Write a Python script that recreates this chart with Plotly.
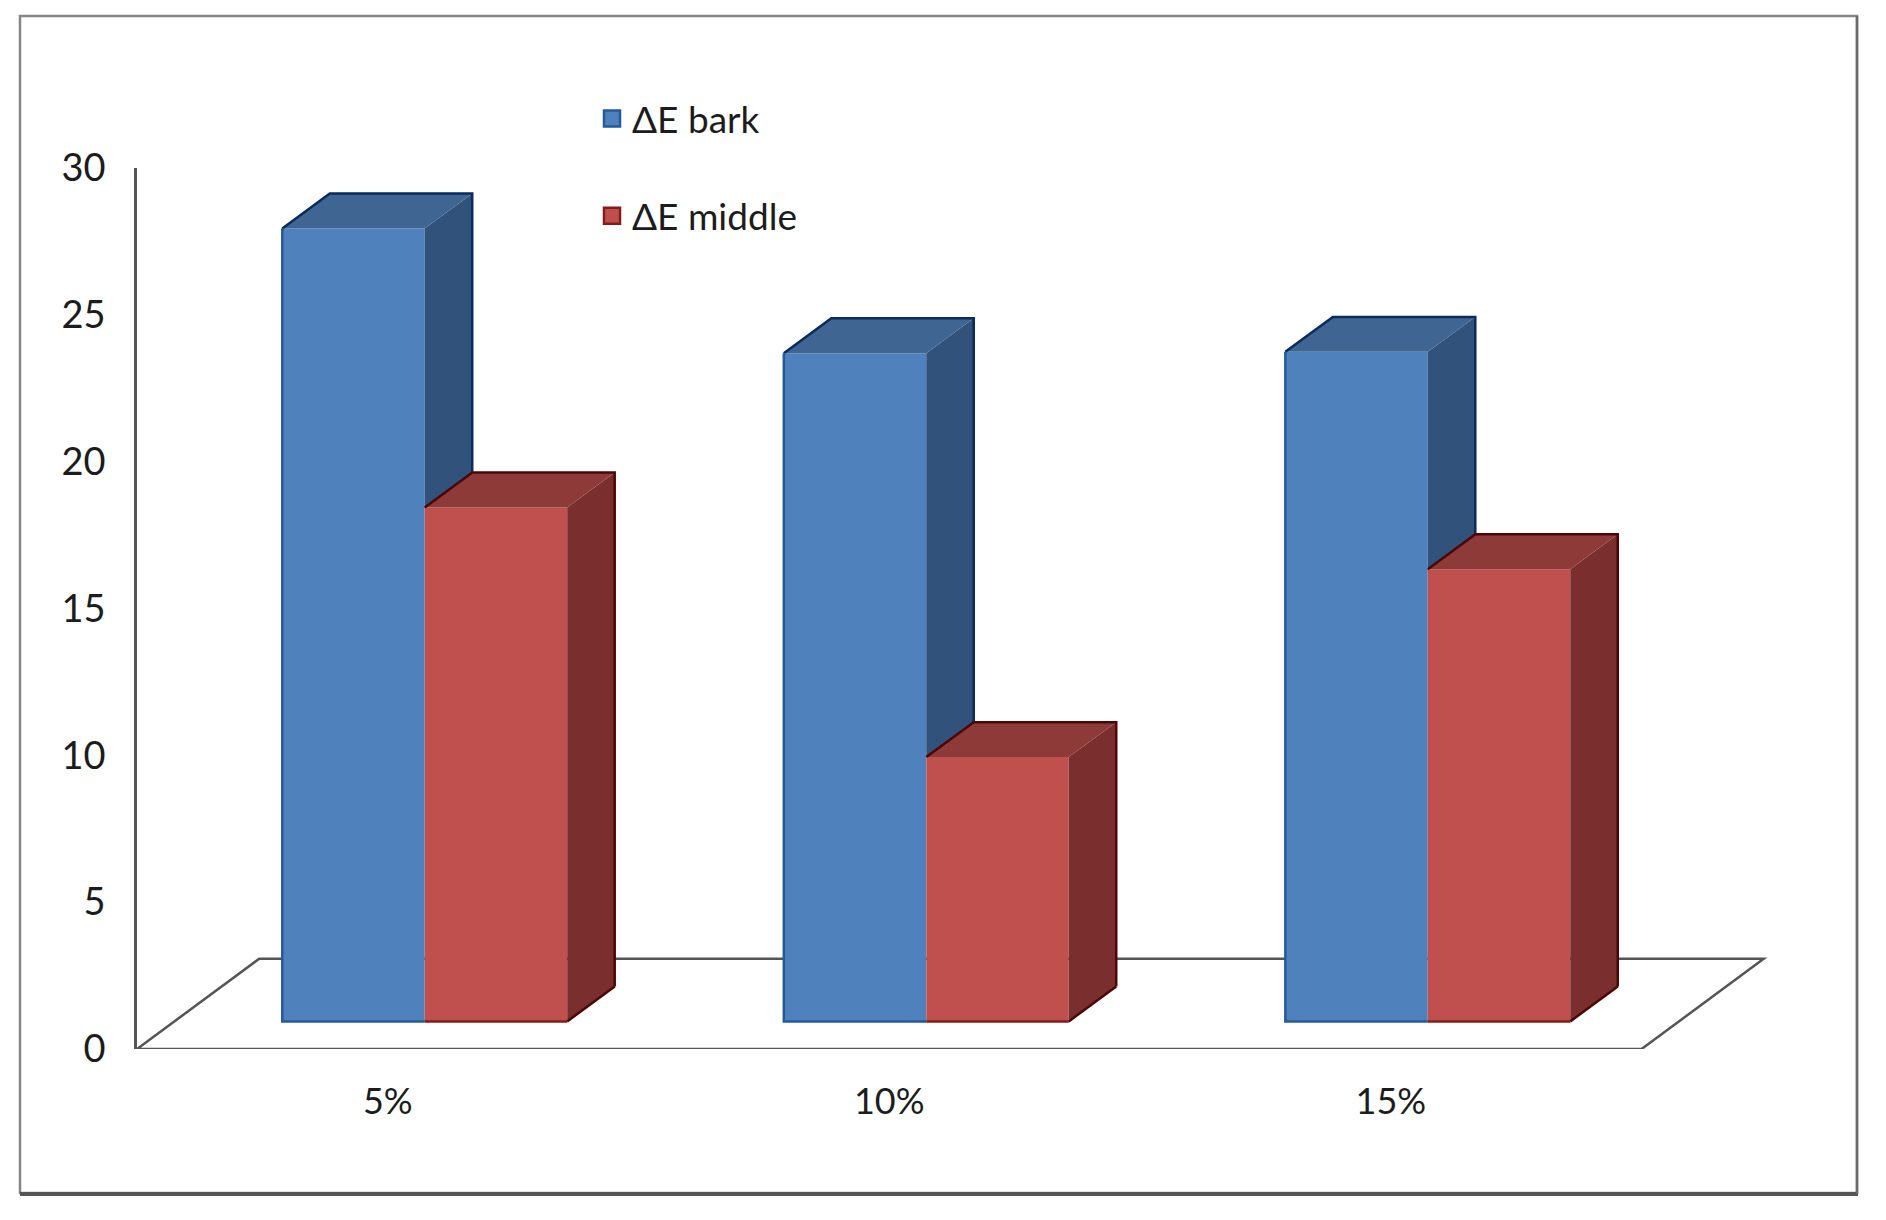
import plotly.graph_objects as go

categories = ["5%", "10%", "15%"]
series_names = ["ΔE bark", "ΔE middle"]
bark_values = [27.0, 22.75, 22.8]
middle_values = [17.5, 9.0, 15.4]
y_ticks = [0, 5, 10, 15, 20, 25, 30]

# Pseudo-3D geometry, in axis units
BAR_W = 0.284
OFF = [-0.0683, 0.2158]
DX = 0.0947
DY = 1.19
BASE = 0.94
FLOOR_BACK = 3.07
FLOOR_SHIFT = 0.2435
FONT = "Lato"
TXT = "#1c1c1c"

STYLE = [
    dict(front="#4f81bd", top="#3f6592", side="#31527b", edge="#0b2a5e", low="#245a9a"),
    dict(front="#c0504d", top="#8e3a38", side="#7a2f2e", edge="#4c0606", low="#861c18"),
]
series = [bark_values, middle_values]
xs = list(range(len(categories)))

fig = go.Figure()


def poly(xv, yv, color, close=True, width=0, line=None):
    fig.add_trace(go.Scatter(
        x=xv, y=yv, mode="lines", showlegend=False, hoverinfo="skip",
        fill="toself" if close else "none",
        fillcolor=color if close else None,
        line=dict(width=width, color=line or color),
    ))


for s, vals in enumerate(series):
    st = STYLE[s]
    fig.add_trace(go.Bar(
        x=[i + OFF[s] for i in xs], y=vals, base=BASE, width=BAR_W,
        marker=dict(color=st["front"], line=dict(width=0)),
        name=series_names[s], showlegend=False,
    ))

for s, vals in enumerate(series):
    st = STYLE[s]
    last = s + 1 == len(series)
    sx, sy, tx, ty, ex, ey, lx, ly = [], [], [], [], [], [], [], []
    for i, v in zip(xs, vals):
        x0 = i + OFF[s] - BAR_W / 2
        x1 = x0 + BAR_W
        top = BASE + v
        # the bark side face is hidden below the top of the middle bar next to it
        low = BASE if last else BASE + series[s + 1][i]
        sx += [x1, x1 + DX, x1 + DX, x1, None]
        sy += [low, low + DY, top + DY, top, None]
        tx += [x0, x0 + DX, x1 + DX, x1, None]
        ty += [top, top + DY, top + DY, top, None]
        ex += [x0, x0 + DX, x1 + DX, x1 + DX, None]
        ey += [top, top + DY, top + DY, low + DY, None]
        if last:
            ex += [x1, x1 + DX, None]
            ey += [BASE, BASE + DY, None]
            lx += [x0, x1, None]
            ly += [BASE, BASE, None]
        else:
            lx += [x0, x0, x1, None]
            ly += [top, BASE, BASE, None]
    poly(sx, sy, st["side"])
    poly(tx, ty, st["top"])
    poly(ex, ey, None, close=False, width=2.5, line=st["edge"])
    poly(lx, ly, None, close=False, width=2.5, line=st["low"])

# Legend entries
for s, name in enumerate(series_names):
    fig.add_trace(go.Scatter(
        x=[None], y=[None], mode="markers", name=name, legendgroup=name,
        marker=dict(symbol="square", size=16, color=STYLE[s]["front"],
                    line=dict(width=2.5, color=STYLE[s]["low"])),
    ))

# Floor of the 3-D box, behind the bars
fl = -0.5
fr = len(categories) - 0.5
floor_path = (
    f"M {fl} 0 L {fr} 0 L {fr + FLOOR_SHIFT} {FLOOR_BACK} "
    f"L {fl + FLOOR_SHIFT} {FLOOR_BACK} Z"
)
fig.add_shape(type="path", path=floor_path, xref="x", yref="y", layer="below",
              line=dict(color="#555555", width=2.5))

W, H = 1886, 1220
ML, MR, MT, MB = 137, 104, 168, 171


def px(x):
    return (x - ML) / (W - ML - MR)


def py(y):
    return 1 - (y - MT) / (H - MT - MB)


# Outer frame
fig.add_shape(type="rect", xref="paper", yref="paper", layer="below",
              x0=px(20), x1=px(1857), y0=py(1193), y1=py(16),
              line=dict(color="#858585", width=2.5), fillcolor="white")
fig.add_shape(type="line", xref="paper", yref="paper",
              x0=px(20), x1=px(1858), y0=py(1194), y1=py(1194),
              line=dict(color="#555555", width=4))
fig.add_shape(type="line", xref="paper", yref="paper",
              x0=px(1857), x1=px(1857), y0=py(1194), y1=py(16),
              line=dict(color="#6a6a6a", width=2.5))

fig.update_layout(
    width=W, height=H, autosize=False,
    margin=dict(l=ML, r=MR, t=MT, b=MB, pad=0),
    paper_bgcolor="white", plot_bgcolor="rgba(0,0,0,0)",
    barmode="overlay",
    font=dict(family=FONT, size=37, color=TXT),
    xaxis=dict(range=[-0.5, 2.78], tickmode="array", tickvals=xs, ticktext=categories,
               showgrid=False, zeroline=False, showline=False, ticks="",
               ticklabelstandoff=28, tickfont=dict(size=36, family=FONT, color=TXT)),
    yaxis=dict(range=[0, 30], tickmode="array", tickvals=y_ticks,
               showgrid=False, zeroline=False, showline=True,
               linecolor="#555555", linewidth=2.5, ticks="",
               ticklabelstandoff=21, tickfont=dict(size=38, family=FONT, color=TXT)),
    legend=dict(x=px(592), y=py(88), xanchor="left", yanchor="top",
                tracegroupgap=46, bgcolor="rgba(0,0,0,0)",
                font=dict(size=37, family=FONT, color=TXT), itemclick=False, itemdoubleclick=False),
)

fig.write_html("out.html", config={"displayModeBar": False},
               post_script="document.body.style.margin='0';")
